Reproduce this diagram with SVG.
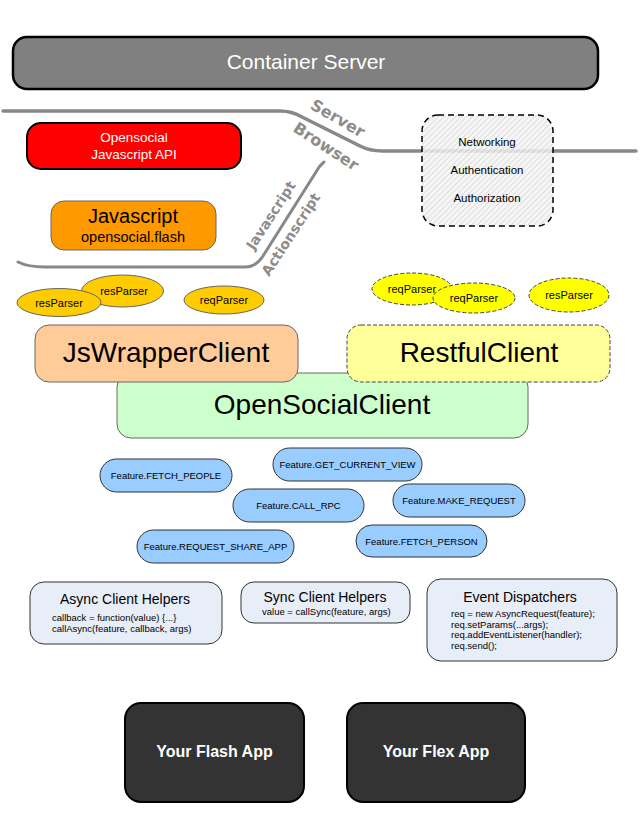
<svg xmlns="http://www.w3.org/2000/svg" width="640" height="838" viewBox="0 0 640 838">
<style>
text{font-family:"Liberation Sans",Arial,sans-serif;text-anchor:middle}
.sep{fill:none;stroke:#888;stroke-linecap:round;stroke-linejoin:round}
.lbl{fill:#8c8c8c;font-weight:bold;font-family:"DejaVu Sans","Liberation Sans",sans-serif}
.oell{fill:#FFCC00;stroke:#666;stroke-width:1}
.yell{fill:#FFFF00;stroke:#444;stroke-width:1;stroke-dasharray:4,2}
.etx{font-size:11px;fill:#000}
.feat{fill:#99CCFF;stroke:#333;stroke-width:1}
.ftx{font-size:9.5px;fill:#000}
.help{fill:#E8EEF8;stroke:#333;stroke-width:1}
.htitle{font-size:14px;fill:#000}
.code{font-size:9.5px;fill:#000;text-anchor:start}
.app{fill:#333;stroke:#000;stroke-width:2}
.apptx{font-size:16px;font-weight:bold;fill:#fff}
.big{font-size:28px;fill:#000}
</style>
<defs>
<pattern id="hatch" width="4" height="4" patternUnits="userSpaceOnUse" patternTransform="rotate(45)">
<rect width="4" height="4" fill="#f4f4f4"/>
<line x1="0" y1="0" x2="0" y2="4" stroke="#c8c8c8" stroke-width="1.2"/>
</pattern>
</defs>

<g id="container-server">
<rect x="13" y="37" width="585" height="52" rx="14" fill="#808080" stroke="#000" stroke-width="2.5"/>
<text x="306" y="69" style="font-size:21px;fill:#fff">Container Server</text>
</g>

<g id="connectors">
<path class="sep" stroke-width="3.5" d="M3,111 L280,111 Q292,111 302,117 L360,146 Q370,151 382,151 L636,151"/>
<path class="sep" stroke-width="3" d="M18,262 Q28,267 45,267 L245,267 Q256,267 263,256 L316,172 Q319,166 324,162"/>
<text class="lbl" font-size="16" transform="translate(335,123) rotate(30)">Server</text>
<text class="lbl" font-size="16" transform="translate(323,151) rotate(33)">Browser</text>
<text class="lbl" font-size="14" transform="translate(275,218) rotate(-57)">Javascript</text>
<text class="lbl" font-size="14" transform="translate(295,237) rotate(-57)">Actionscript</text>
</g>

<g id="opensocial-js-api">
<rect x="27" y="123" width="214" height="46" rx="14" fill="#FF0000" stroke="#000" stroke-width="2"/>
<text x="134" y="142" style="font-size:13.5px;fill:#fff">Opensocial</text>
<text x="134" y="159" style="font-size:13.5px;fill:#fff">Javascript API</text>
</g>

<g id="javascript-flash">
<rect x="51" y="201" width="165" height="49" rx="13" fill="#FF9900" stroke="#666" stroke-width="1"/>
<text x="133" y="223" style="font-size:20px;fill:#000">Javascript</text>
<text x="133" y="242" style="font-size:14.5px;fill:#000">opensocial.flash</text>
</g>

<g id="networking">
<rect x="422" y="115" width="131" height="111" rx="16" fill="url(#hatch)" fill-opacity="0.85" stroke="#000" stroke-width="1.5" stroke-dasharray="6,4"/>
<text x="487" y="146" style="font-size:11.5px;fill:#000">Networking</text>
<text x="487" y="174" style="font-size:11.5px;fill:#000">Authentication</text>
<text x="487" y="202" style="font-size:11.5px;fill:#000">Authorization</text>
</g>

<g id="resParser-js-2">
<ellipse class="oell" cx="122.5" cy="291" rx="41" ry="16"/>
<text class="etx" x="124" y="295">resParser</text>
</g>
<g id="resParser-js-1">
<ellipse class="oell" cx="59" cy="302.5" rx="42" ry="14"/>
<text class="etx" x="59" y="306.5">resParser</text>
</g>
<g id="reqParser-js">
<ellipse class="oell" cx="224" cy="300" rx="40" ry="14"/>
<text class="etx" x="224" y="304">reqParser</text>
</g>
<g id="reqParser-rest-1">
<ellipse class="yell" cx="412" cy="289" rx="40" ry="16"/>
<text class="etx" x="412" y="293">reqParser</text>
</g>
<g id="reqParser-rest-2">
<ellipse class="yell" cx="474" cy="298" rx="41" ry="15"/>
<text class="etx" x="474" y="302">reqParser</text>
</g>
<g id="resParser-rest">
<ellipse class="yell" cx="569" cy="295" rx="40" ry="17"/>
<text class="etx" x="569" y="299">resParser</text>
</g>

<g id="opensocial-client">
<rect x="117" y="373" width="411" height="65" rx="14" fill="#CCFFCC" stroke="#666" stroke-width="1"/>
<text class="big" x="322" y="414">OpenSocialClient</text>
</g>
<g id="jswrapper-client">
<rect x="35" y="325" width="263" height="57" rx="14" fill="#FFCC99" stroke="#666" stroke-width="1"/>
<text class="big" x="166" y="362">JsWrapperClient</text>
</g>
<g id="restful-client">
<rect x="347" y="325" width="263" height="57" rx="14" fill="#FFFF99" stroke="#444" stroke-width="1" stroke-dasharray="4,2"/>
<text class="big" x="479" y="362">RestfulClient</text>
</g>

<g id="feature-fetch-people">
<rect class="feat" x="100" y="459" width="132" height="33" rx="16.5"/>
<text class="ftx" x="166" y="479">Feature.FETCH_PEOPLE</text>
</g>
<g id="feature-get-current-view">
<rect class="feat" x="273" y="448" width="149" height="33" rx="16.5"/>
<text class="ftx" x="347.5" y="468">Feature.GET_CURRENT_VIEW</text>
</g>
<g id="feature-call-rpc">
<rect class="feat" x="233" y="489" width="131" height="33" rx="16.5"/>
<text class="ftx" x="298.5" y="509">Feature.CALL_RPC</text>
</g>
<g id="feature-make-request">
<rect class="feat" x="393" y="484" width="132" height="33" rx="16.5"/>
<text class="ftx" x="459" y="504">Feature.MAKE_REQUEST</text>
</g>
<g id="feature-request-share-app">
<rect class="feat" x="137" y="530" width="157" height="33" rx="16.5"/>
<text class="ftx" x="215.5" y="550">Feature.REQUEST_SHARE_APP</text>
</g>
<g id="feature-fetch-person">
<rect class="feat" x="356" y="525" width="131" height="32" rx="16"/>
<text class="ftx" x="421.5" y="545">Feature.FETCH_PERSON</text>
</g>

<g id="async-helpers">
<rect class="help" x="30" y="582" width="192" height="62" rx="14"/>
<text class="htitle" x="125" y="604">Async Client Helpers</text>
<text class="code" x="52" y="621">callback = function(value) {...}</text>
<text class="code" x="52" y="632">callAsync(feature, callback, args)</text>
</g>
<g id="sync-helpers">
<rect class="help" x="241" y="582" width="169" height="41" rx="13"/>
<text class="htitle" x="325" y="602">Sync Client Helpers</text>
<text class="code" x="262" y="615">value = callSync(feature, args)</text>
</g>
<g id="event-dispatchers">
<rect class="help" x="427" y="579" width="190" height="82" rx="14"/>
<text class="htitle" x="520" y="602">Event Dispatchers</text>
<text class="code" x="451" y="617">req = new AsyncRequest(feature);</text>
<text class="code" x="451" y="627.5">req.setParams(...args);</text>
<text class="code" x="451" y="638">req.addEventListener(handler);</text>
<text class="code" x="451" y="648.5">req.send();</text>
</g>

<g id="flash-app">
<rect class="app" x="125" y="703" width="179" height="99" rx="16"/>
<text class="apptx" x="214.5" y="757">Your Flash App</text>
</g>
<g id="flex-app">
<rect class="app" x="347" y="703" width="178" height="99" rx="16"/>
<text class="apptx" x="436" y="757">Your Flex App</text>
</g>
</svg>
